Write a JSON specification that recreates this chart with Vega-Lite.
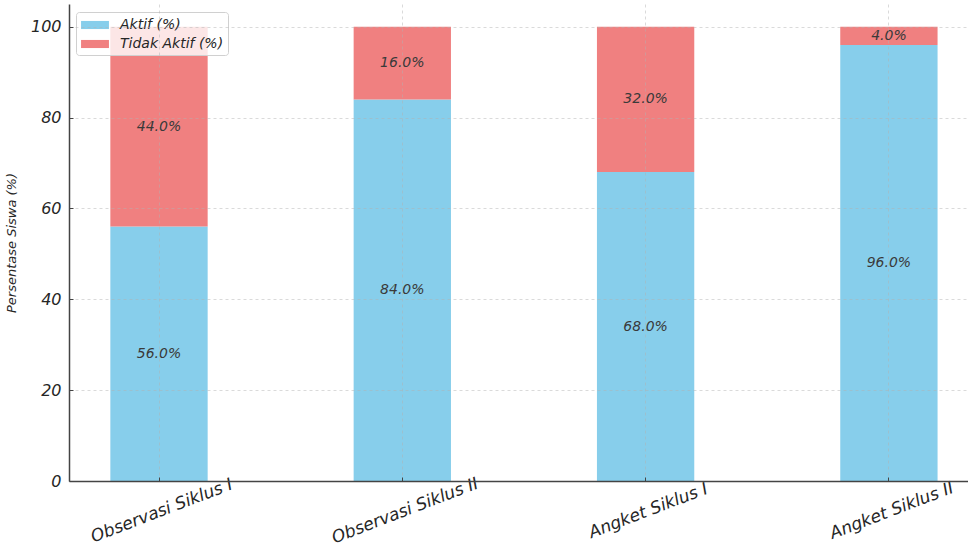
{
  "$schema": "https://vega.github.io/schema/vega-lite/v6.json",
  "autosize": {"type": "none"},
  "width": 899,
  "height": 477,
  "padding": {"left": 69, "top": 4, "right": 0, "bottom": 68},
  "background": "white",
  "config": {
    "font": "DejaVu Sans",
    "view": {"stroke": null},
    "axis": {"labelFont": "DejaVu Sans", "titleFont": "DejaVu Sans"}
  },
  "data": {
    "values": [
      {"kategori": "Observasi Siklus I", "status": "Aktif (%)", "nilai": 56.0},
      {"kategori": "Observasi Siklus I", "status": "Tidak Aktif (%)", "nilai": 44.0},
      {"kategori": "Observasi Siklus II", "status": "Aktif (%)", "nilai": 84.0},
      {"kategori": "Observasi Siklus II", "status": "Tidak Aktif (%)", "nilai": 16.0},
      {"kategori": "Angket Siklus I", "status": "Aktif (%)", "nilai": 68.0},
      {"kategori": "Angket Siklus I", "status": "Tidak Aktif (%)", "nilai": 32.0},
      {"kategori": "Angket Siklus II", "status": "Aktif (%)", "nilai": 96.0},
      {"kategori": "Angket Siklus II", "status": "Tidak Aktif (%)", "nilai": 4.0}
    ]
  },
  "transform": [
    {"stack": "nilai", "groupby": ["kategori"], "sort": [{"field": "status", "order": "ascending"}], "as": ["v0", "v1"]},
    {"calculate": "(datum.v0 + datum.v1) / 2", "as": "mid"},
    {"calculate": "format(datum.nilai, '.1f') + '%'", "as": "label"}
  ],
  "encoding": {
    "x": {
      "field": "kategori",
      "type": "nominal",
      "sort": ["Observasi Siklus I", "Observasi Siklus II", "Angket Siklus I", "Angket Siklus II"],
      "scale": {"paddingInner": 0.6, "paddingOuter": 0.1475, "align": 0.576},
      "axis": {
        "title": null,
        "labelAngle": -21,
        "labelAlign": "center",
        "labelBaseline": "top",
        "labelFontSize": 17,
        "labelFontStyle": "italic",
        "labelColor": "#262626",
        "labelPadding": 26,
        "domainColor": "#444444",
        "domainWidth": 1.5,
        "tickColor": "#444444",
        "tickSize": -4,
        "grid": true,
        "gridDash": [3, 3],
        "gridColor": "#b0b0b0",
        "gridOpacity": 0.6,
        "gridWidth": 0.8,
        "zindex": 1
      }
    }
  },
  "layer": [
    {
      "mark": {"type": "bar"},
      "encoding": {
        "y": {
          "field": "v0",
          "type": "quantitative",
          "scale": {"domain": [0, 105], "nice": false},
          "axis": {
            "title": "Persentase Siswa (%)",
            "titleFontSize": 13,
            "titleFontStyle": "italic",
            "titleFontWeight": "normal",
            "titleColor": "#262626",
            "titlePadding": 12,
            "values": [0, 20, 40, 60, 80, 100],
            "labelFontSize": 16,
            "labelFontStyle": "italic",
            "labelColor": "#262626",
            "labelPadding": 12,
            "domainColor": "#444444",
            "domainWidth": 1.5,
            "tickColor": "#444444",
            "tickSize": -4,
            "gridDash": [3, 3],
            "gridColor": "#b0b0b0",
            "gridOpacity": 0.6,
            "gridWidth": 0.8,
            "zindex": 1
          }
        },
        "y2": {"field": "v1"},
        "color": {
          "field": "status",
          "type": "nominal",
          "scale": {"domain": ["Aktif (%)", "Tidak Aktif (%)"], "range": ["#87CEEB", "#F08080"]},
          "legend": {
            "title": null,
            "orient": "none",
            "legendX": 7,
            "legendY": 8,
            "direction": "vertical",
            "symbolType": "M-1.55,-0.45L1.55,-0.45L1.55,0.45L-1.55,0.45Z",
            "symbolSize": 324,
            "symbolStrokeWidth": 0,
            "symbolOffset": 6,
            "labelFontSize": 14,
            "labelFontStyle": "italic",
            "labelColor": "#262626",
            "labelOffset": 16,
            "rowPadding": 3,
            "padding": 4,
            "fillColor": "rgba(255,255,255,0.8)",
            "strokeColor": "#d0d0d0",
            "cornerRadius": 3
          }
        }
      }
    },
    {
      "mark": {"type": "text", "fontSize": 14, "fontStyle": "italic", "color": "#3a3a3a"},
      "encoding": {
        "y": {"field": "mid", "type": "quantitative"},
        "text": {"field": "label", "type": "nominal"}
      }
    }
  ]
}
